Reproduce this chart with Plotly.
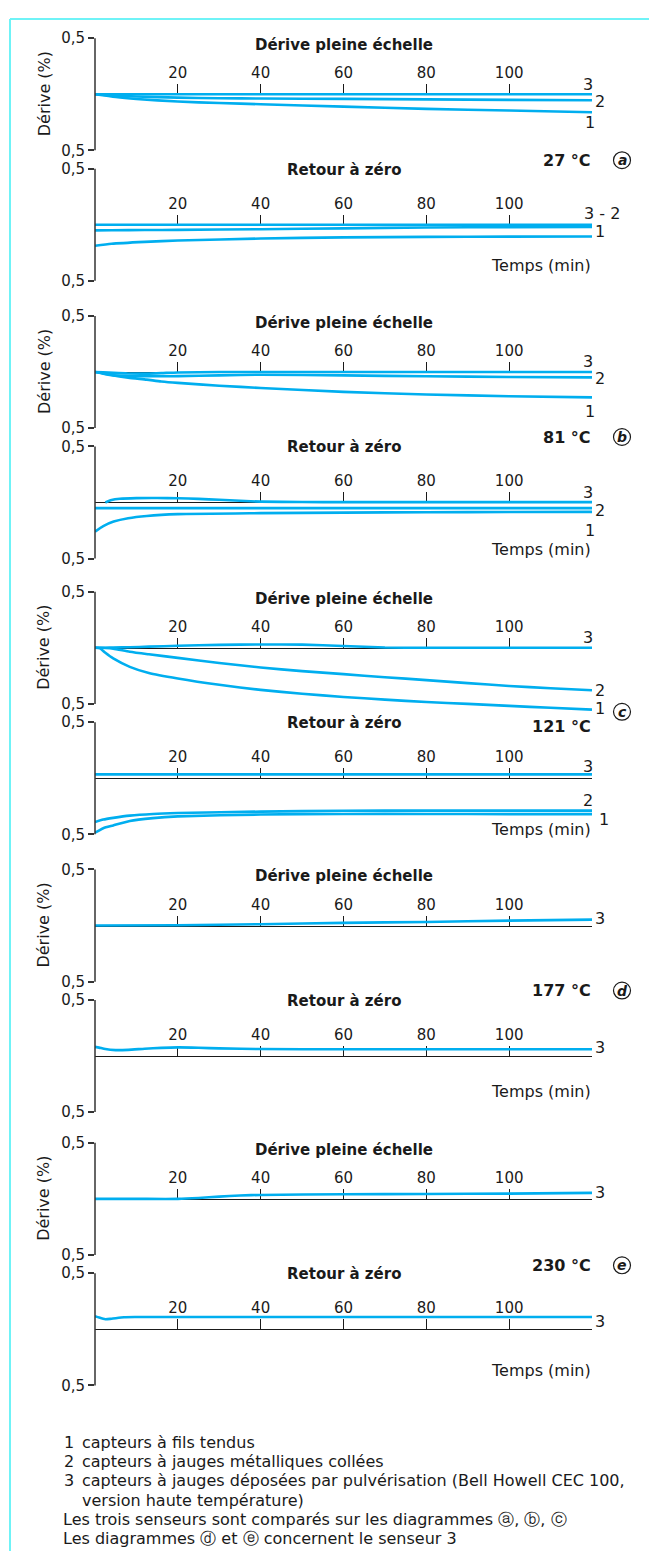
import plotly.graph_objects as go

W, H = 649, 1560
FONT = "DejaVu Sans"
BLUE = "#00AEEF"
CYAN = "#6FF3F7"
INK = "#1a1a1a"

# ---------------- axes ----------------
TIME_RANGE = [0, 120]
TIME_TICKS = [20, 40, 60, 80, 100]
Y_TICKS = [-0.5, 0.5]
Y_TICK_TEXT = ["0,5", "0,5"]

# ---------------- data (drift %, time in min) ----------------
# (a) 27 °C - Dérive pleine échelle
A_TOP_T = [0, 5, 10, 20, 30, 40, 60, 80, 100, 120]
A_TOP_S1 = [0, -0.025, -0.042, -0.065, -0.078, -0.089, -0.110, -0.130, -0.145, -0.160]
A_TOP_S2 = [0, -0.012, -0.020, -0.030, -0.035, -0.038, -0.041, -0.046, -0.050, -0.053]
A_TOP_S3 = [0, 0, 0, 0, 0, 0, 0, 0, 0, 0]
# (a) 27 °C - Retour à zéro
A_BOT_T = [0, 4, 12, 20, 40, 60, 80, 100, 120]
A_BOT_S1 = [-0.188, -0.170, -0.153, -0.141, -0.123, -0.113, -0.108, -0.106, -0.105]
A_BOT_S2 = [-0.050, -0.049, -0.047, -0.046, -0.040, -0.032, -0.025, -0.021, -0.019]
A_BOT_S3 = [0, 0, 0, 0, 0, 0, 0, 0, 0]

# (b) 81 °C - Dérive pleine échelle
B_TOP_T = [0, 2, 4.5, 8, 12.5, 16, 20, 30, 40, 60, 80, 100, 120]
B_TOP_S1 = [0, -0.012, -0.030, -0.050, -0.068, -0.084, -0.097, -0.122, -0.142, -0.177, -0.200, -0.216, -0.226]
B_TOP_S2 = [0, -0.015, -0.030, -0.036, -0.038, -0.038, -0.037, -0.030, -0.024, -0.030, -0.038, -0.044, -0.048]
B_TOP_S3 = [0, -0.003, -0.008, -0.013, -0.014, -0.010, -0.004, 0, 0, 0, 0, 0, 0]
# (b) 81 °C - Retour à zéro
B_BOT_T12 = [0, 2, 4.5, 8, 12.5, 20, 40, 60, 80, 100, 120]
B_BOT_S1 = [-0.260, -0.210, -0.170, -0.140, -0.120, -0.104, -0.095, -0.090, -0.087, -0.085, -0.084]
B_BOT_S2 = [-0.050, -0.050, -0.050, -0.050, -0.050, -0.050, -0.050, -0.050, -0.050, -0.050, -0.050]
B_BOT_T3 = [2.5, 4, 6, 10, 15, 20, 25, 30, 35, 40, 50, 60, 80, 100, 120]
B_BOT_S3 = [0, 0.022, 0.033, 0.039, 0.040, 0.038, 0.032, 0.024, 0.015, 0.008, 0.004, 0.003, 0.003, 0.003, 0.003]

# (c) 121 °C - Dérive pleine échelle
C_TOP_T = [0, 1.2, 2.5, 4.4, 8.4, 13, 20, 30, 40, 50, 60, 70, 80, 90, 100, 110, 120]
C_TOP_S1 = [0, -0.005, -0.045, -0.095, -0.170, -0.225, -0.274, -0.330, -0.375, -0.410, -0.438, -0.462,
            -0.483, -0.500, -0.518, -0.535, -0.551]
C_TOP_S2 = [0, 0, -0.002, -0.008, -0.035, -0.058, -0.090, -0.135, -0.176, -0.208, -0.235, -0.262,
            -0.288, -0.315, -0.340, -0.360, -0.378]
C_TOP_S3 = [0, 0, 0.001, 0.002, 0.005, 0.010, 0.018, 0.026, 0.030, 0.028, 0.016, 0.003,
            0, 0, 0, 0, 0]
# (c) 121 °C - Retour à zéro
C_BOT_T = [0, 2, 4.4, 8.4, 14, 20, 40, 60, 80, 100, 120]
C_BOT_S1 = [-0.485, -0.445, -0.420, -0.380, -0.355, -0.340, -0.323, -0.318, -0.318, -0.320, -0.320]
C_BOT_S2 = [-0.390, -0.368, -0.353, -0.333, -0.318, -0.310, -0.297, -0.290, -0.288, -0.288, -0.288]
C_BOT_S3 = [0.035, 0.035, 0.035, 0.035, 0.035, 0.035, 0.035, 0.035, 0.035, 0.035, 0.035]

# (d) 177 °C - sensor 3 only
D_TOP_T = [0, 20, 40, 60, 80, 100, 120]
D_TOP_S3 = [0, 0.003, 0.012, 0.024, 0.032, 0.044, 0.053]
D_BOT_T = [0, 1, 2.5, 5, 8, 12, 16, 20, 25, 30, 40, 60, 80, 100, 120]
D_BOT_S3 = [0.082, 0.075, 0.062, 0.053, 0.055, 0.065, 0.073, 0.077, 0.074, 0.068, 0.062, 0.060, 0.060, 0.060, 0.060]

# (e) 230 °C - sensor 3 only
E_TOP_T = [0, 10, 20, 25, 30, 35, 40, 60, 80, 100, 120]
E_TOP_S3 = [0, 0, 0, 0.008, 0.020, 0.030, 0.035, 0.041, 0.044, 0.047, 0.053]
E_BOT_T = [0, 1, 2.5, 4, 7, 10, 20, 40, 60, 80, 100, 120]
E_BOT_S3 = [0.118, 0.105, 0.090, 0.095, 0.108, 0.110, 0.110, 0.110, 0.110, 0.110, 0.110, 0.110]

TEMPERATURES = ["27 °C", "81 °C", "121 °C", "177 °C", "230 °C"]
LETTERS = ["a", "b", "c", "d", "e"]
LEGEND_ITEMS = [
    ("1", "capteurs à fils tendus"),
    ("2", "capteurs à jauges métalliques collées"),
    ("3", "capteurs à jauges déposées par pulvérisation (Bell Howell CEC 100,"),
    ("", "version haute température)"),
]
NOTES = [
    "Les trois senseurs sont comparés sur les diagrammes \u24d0, \u24d1, \u24d2",
    "Les diagrammes \u24d3 et \u24d4 concernent le senseur 3",
]


# ---------------- layout helpers (pixels -> paper) ----------------
def px(v):
    return v / W


def py(v):
    return 1 - v / H


X0, X1 = 95, 592
PH = 113.5

panels = [
    dict(top=29.5, kind="top", ymin=-0.5,
         series=[(A_TOP_T, A_TOP_S1), (A_TOP_T, A_TOP_S2), (A_TOP_T, A_TOP_S3)],
         labels=[("3", 588, 76), ("2", 600, 94), ("1", 590, 115)]),
    dict(top=161.5, kind="bot", ymin=-0.5, temps=259,
         series=[(A_BOT_T, A_BOT_S1), (A_BOT_T, A_BOT_S2), (A_BOT_T, A_BOT_S3)],
         labels=[("3 - 2", 602, 207), ("1", 600, 225)]),
    dict(top=310.5, kind="top", ymin=-0.5,
         series=[(B_TOP_T, B_TOP_S1), (B_TOP_T, B_TOP_S2), (B_TOP_T, B_TOP_S3)],
         labels=[("3", 588, 357), ("2", 600, 374), ("1", 590, 407)]),
    dict(top=442.5, kind="bot", ymin=-0.5, temps=547,
         series=[(B_BOT_T12, B_BOT_S1), (B_BOT_T12, B_BOT_S2), (B_BOT_T3, B_BOT_S3)],
         labels=[("3", 588, 489), ("2", 600, 507), ("1", 590, 528)]),
    dict(top=589.5, kind="top", ymin=-0.6,
         series=[(C_TOP_T, C_TOP_S1), (C_TOP_T, C_TOP_S2), (C_TOP_T, C_TOP_S3)],
         labels=[("3", 588, 636), ("2", 600, 689), ("1", 600, 708)]),
    dict(top=721.5, kind="bot", ymin=-0.5, temps=830,
         series=[(C_BOT_T, C_BOT_S1), (C_BOT_T, C_BOT_S2), (C_BOT_T, C_BOT_S3)],
         labels=[("3", 588, 766), ("2", 588, 801), ("1", 604, 820)]),
    dict(top=870.5, kind="top", ymin=-0.5,
         series=[(D_TOP_T, D_TOP_S3)],
         labels=[("3", 600, 920)]),
    dict(top=1002.5, kind="bot", ymin=-0.5, temps=1095,
         series=[(D_BOT_T, D_BOT_S3)],
         labels=[("3", 600, 1051)]),
    dict(top=1147, kind="top", ymin=-0.5,
         series=[(E_TOP_T, E_TOP_S3)],
         labels=[("3", 600, 1197)]),
    dict(top=1279, kind="bot", ymin=-0.5, temps=1377,
         series=[(E_BOT_T, E_BOT_S3)],
         labels=[("3", 600, 1328)]),
]

TEMP_POS = [(153, 153), (433, 433), (726, 711), (993, 993), (1271, 1271)]

traces = []
layout = dict(
    width=W, height=H,
    margin=dict(l=0, r=0, t=0, b=0),
    paper_bgcolor="white", plot_bgcolor="rgba(0,0,0,0)",
    showlegend=False,
    font=dict(family=FONT, color=INK),
)
annotations = []
shapes = []


def text(s, x, y, size=16, xanchor="center", yanchor="middle", angle=0):
    annotations.append(dict(text=s, x=px(x), y=py(y), xref="paper", yref="paper",
                            xanchor=xanchor, yanchor=yanchor, showarrow=False,
                            textangle=angle, font=dict(family=FONT, size=size, color=INK)))


for k, p in enumerate(panels, start=1):
    top = p["top"]
    ymin = p["ymin"]
    bottom = top + (0.5 - ymin) * PH
    zero = top + 0.5 * PH
    layout[f"xaxis{k}"] = dict(
        domain=[px(X0), px(X1)], range=TIME_RANGE, anchor="free", position=py(zero),
        side="top", tickvals=TIME_TICKS, ticks="outside", ticklen=10, tickwidth=1,
        tickcolor=INK, showline=True, linecolor=INK, linewidth=1, showgrid=False,
        zeroline=False, tickfont=dict(family=FONT, size=15, color=INK),
        layer="below traces", fixedrange=True)
    layout[f"yaxis{k}"] = dict(
        domain=[py(bottom), py(top)], range=[ymin, 0.5], anchor=f"x{k}",
        tickvals=Y_TICKS, ticktext=Y_TICK_TEXT, ticks="outside", ticklen=6, tickwidth=1.5,
        tickcolor="#333", showline=False, showgrid=False, zeroline=False,
        tickfont=dict(family=FONT, size=15, color=INK), fixedrange=True)
    # vertical axis spine between the two 0,5 ticks
    shapes.append(dict(type="line", xref="paper", yref="paper", x0=px(X0), x1=px(X0),
                       y0=py(top), y1=py(top + PH), line=dict(color="#333", width=1.5)))
    for t, v in p["series"]:
        traces.append(go.Scatter(x=t, y=v, mode="lines", xaxis=f"x{k}", yaxis=f"y{k}",
                                 line=dict(color=BLUE, width=2.6, shape="spline", smoothing=0.6),
                                 hoverinfo="skip"))
    for s, lx, ly in p["labels"]:
        text(s, lx, ly, size=16)
    if p["kind"] == "top":
        text("<b>Dérive pleine échelle</b>", 343.5, top + 7, size=15)
        text("Dérive (%)", 44, zero, size=16, angle=-90)
    else:
        text("<b>Retour à zéro</b>", 343.5, top + 1, size=15)
        text("Temps (min)", 593, p["temps"], size=16, xanchor="right")

for temp, letter, (ty, cy) in zip(TEMPERATURES, LETTERS, TEMP_POS):
    text(f"<b>{temp}</b>", 593, ty, size=16, xanchor="right")
    r = 8.5
    shapes.append(dict(type="circle", xref="paper", yref="paper",
                       x0=px(622 - r), x1=px(622 + r), y0=py(cy + r), y1=py(cy - r),
                       line=dict(color=INK, width=1.2)))
    text(f"<b><i>{letter}</i></b>", 622, cy, size=14)

# legend text
LEG_Y = [1450, 1469.5, 1489, 1508.5, 1528, 1547.5]
for (num, desc), y in zip(LEGEND_ITEMS, LEG_Y):
    if num:
        text(num, 62, y, size=16, xanchor="left")
    text(desc, 80, y, size=16, xanchor="left")
for note, y in zip(NOTES, LEG_Y[4:]):
    text(note, 61, y, size=16, xanchor="left")

# cyan frame (top and left)
shapes.append(dict(type="line", xref="paper", yref="paper", x0=px(10), x1=1, y0=py(10), y1=py(10),
                   line=dict(color=CYAN, width=2)))
shapes.append(dict(type="line", xref="paper", yref="paper", x0=px(10), x1=px(10), y0=py(10), y1=0,
                   line=dict(color=CYAN, width=2)))

layout["annotations"] = annotations
layout["shapes"] = shapes

fig = go.Figure(data=traces, layout=layout)
fig.write_html("out.html", config={"displayModeBar": False})
